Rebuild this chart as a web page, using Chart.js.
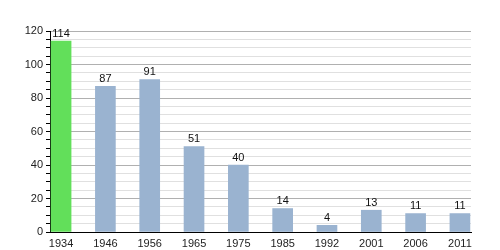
<!DOCTYPE html>
<html><head><meta charset="utf-8">
<script src="https://cdn.jsdelivr.net/npm/chart.js@4/dist/chart.umd.min.js"></script>
<style>html,body{margin:0;padding:0;background:#fff}#w{width:500px;height:250px}</style>
</head><body><div id="w"><canvas id="c"></canvas></div>
<script>
const categories = ['1934','1946','1956','1965','1975','1985','1992','2001','2006','2011'];
const values = [114, 87, 91, 51, 40, 14, 4, 13, 11, 11];
const barColors = ['#62df5a','#9ab3d0','#9ab3d0','#9ab3d0','#9ab3d0','#9ab3d0','#9ab3d0','#9ab3d0','#9ab3d0','#9ab3d0'];

const labelPlugin = {
  id: 'vals',
  afterDatasetsDraw(chart) {
    const ctx = chart.ctx;
    const meta = chart.getDatasetMeta(0);
    ctx.save();
    ctx.font = '11px "Liberation Sans", Arial, sans-serif';
    ctx.fillStyle = '#111';
    ctx.textAlign = 'center';
    ctx.textBaseline = 'bottom';
    meta.data.forEach((el, i) => {
      ctx.fillText(String(values[i]), el.x, el.y - 2);
    });
    ctx.restore();
  }
};

new Chart(document.getElementById('c'), {
  type: 'bar',
  data: {
    datasets: [{
      data: values.map((v, i) => ({x: i, y: v})),
      backgroundColor: barColors,
      borderWidth: 0,
      barThickness: 20
    }]
  },
  options: {
    responsive: true,
    maintainAspectRatio: false,
    animation: false,
    layout: {padding: {top: 31, right: 29, left: 0, bottom: 0}},
    plugins: {legend: {display: false}, tooltip: {enabled: false}},
    scales: {
      x: {
        type: 'linear',
        offset: false,
        min: -0.25,
        max: 9.25,
        afterBuildTicks(scale) { scale.ticks = categories.map((c, i) => ({value: i})); },
        afterFit(scale) { scale.height = 18; },
        grid: {display: false},
        border: {display: true, color: '#000', width: 1},
        ticks: {
          callback: (v) => categories[v],
          autoSkip: false, maxRotation: 0, padding: -3,
          color: '#222',
          font: {family: '"Liberation Sans", Arial, sans-serif', size: 11}
        }
      },
      y: {
        min: 0, max: 120,
        afterFit(scale) { scale.width = 50; },
        border: {display: true, color: '#000', width: 1},
        grid: {
          color: (c) => (c.tick && c.tick.value % 20 === 0) ? '#b0b0b0' : '#e0e0e0',
          tickColor: '#000',
          tickLength: 4,
          lineWidth: 1
        },
        ticks: {
          stepSize: 5,
          autoSkip: false,
          padding: 3,
          color: '#222',
          font: {family: '"Liberation Sans", Arial, sans-serif', size: 11},
          callback: (v) => v % 20 === 0 ? v : ''
        }
      }
    }
  },
  plugins: [labelPlugin]
});
</script></body></html>
